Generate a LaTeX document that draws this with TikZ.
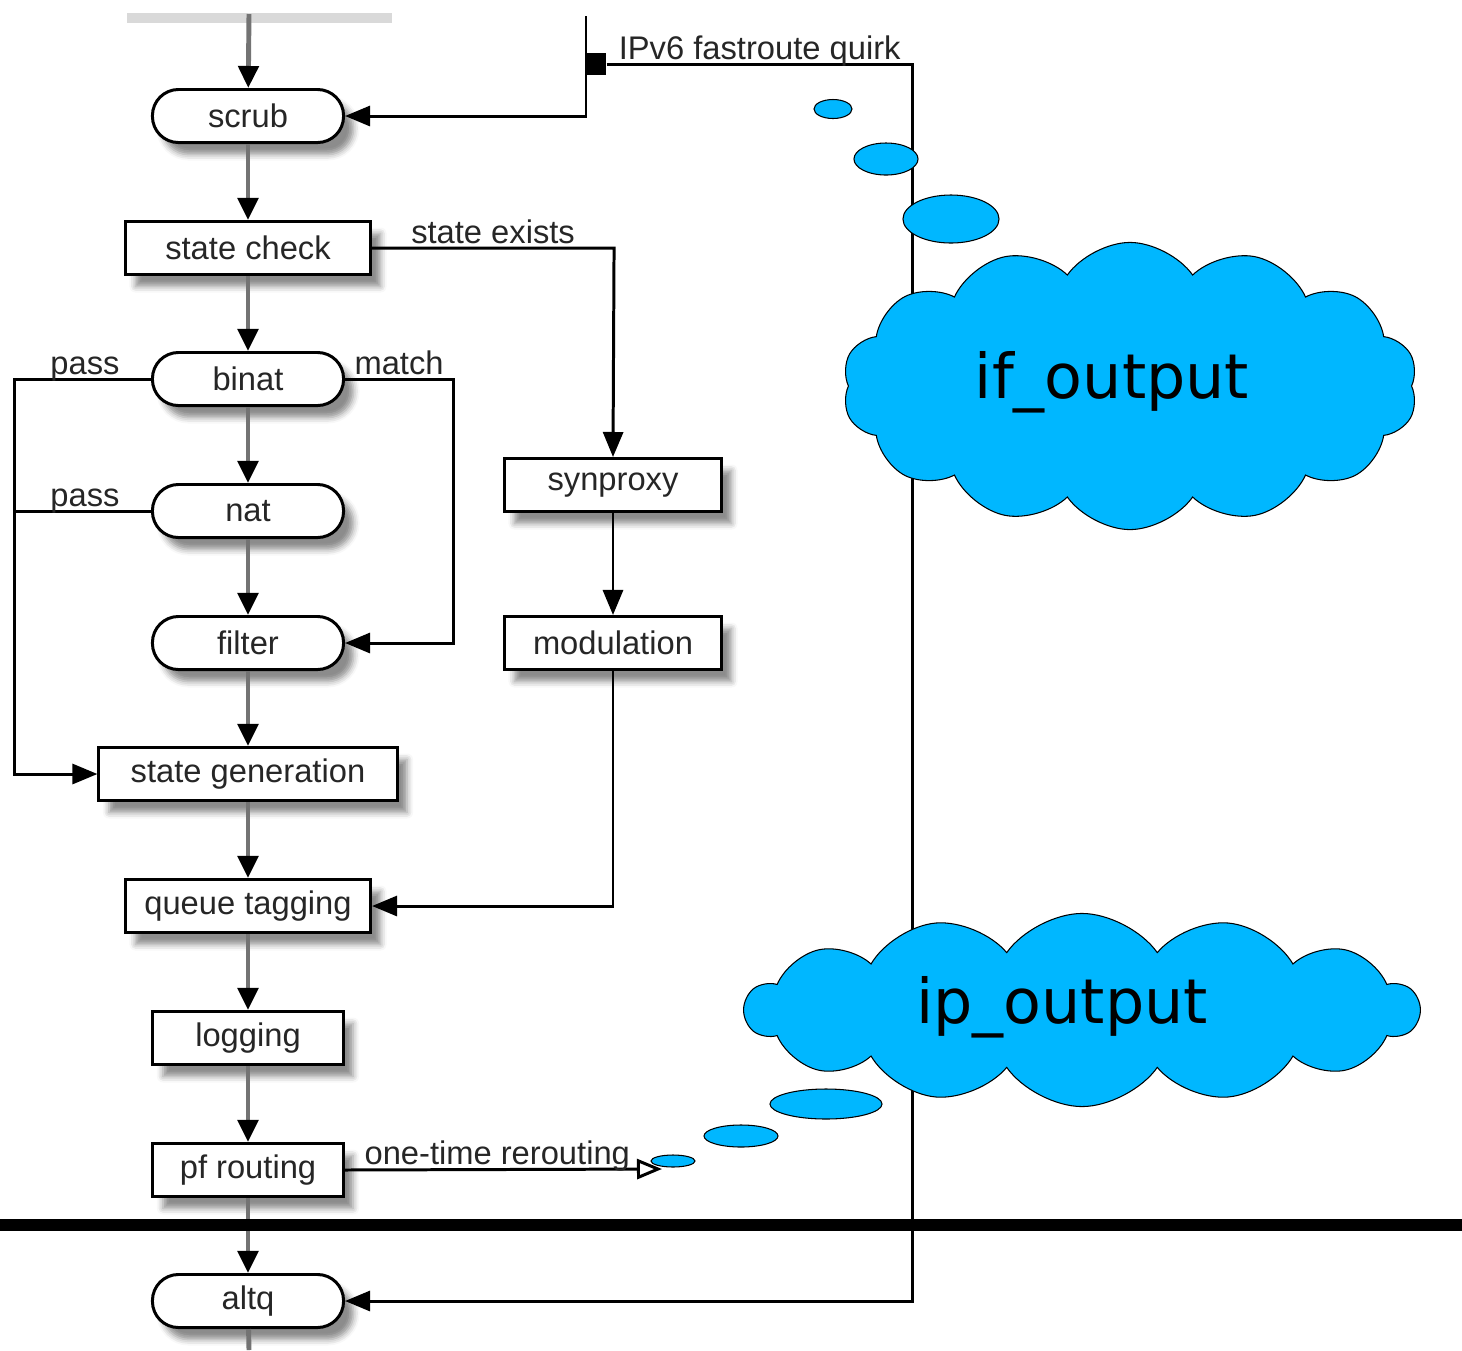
\documentclass[tikz,border=0pt]{standalone}
\usepackage{fontspec}
\setmainfont{Liberation Sans}
\newfontfamily\nuagefont{DejaVu Sans}
\usetikzlibrary{arrows.meta,shapes.symbols,shadows.blur}
\definecolor{nuage}{RGB}{0,183,255}
\definecolor{gristrait}{RGB}{115,115,115}
\tikzset{
	boite/.style={draw, line width=0.85pt, fill=white, text=black!85,
		font=\fontsize{9.3}{11}\selectfont, minimum height=0.53cm, inner sep=0pt,
		blur shadow={shadow xshift=0.1cm, shadow yshift=-0.12cm,
			shadow blur radius=0.06cm, shadow opacity=45}},
	capsule/.style={boite, rounded corners=0.26cm, minimum width=1.91cm},
	flux/.style={draw=gristrait, line width=1.4pt,
		-{Triangle[length=0.22cm,width=0.2cm,color=black]}},
	lien/.style={draw=black, line width=0.85pt,
		-{Triangle[length=0.25cm,width=0.2cm]}},
	etiq/.style={font=\fontsize{9.3}{11}\selectfont, text=black!85,
		anchor=base, yshift=0.05cm},
	bulle/.style={draw=black, line width=0.3pt, fill=nuage},
	nuee/.style={bulle, cloud, cloud puffs=14, cloud puff arc=110, cloud ignores aspect},
	nueetexte/.style={font=\nuagefont\fontsize{17.6}{20}\selectfont, text=black},
}
\begin{document}
\begin{tikzpicture}[x=0.01cm,y=-0.01cm]
\useasboundingbox (0,0) rectangle (1462,1350);
%	Ombre de la boite du dessus :
	\fill[gray!30] (127,13) rectangle (392,23);
	\coordinate (haut) at (249,14);
	\coordinate (hautv6) at (586,16);
	\coordinate (bas) at (249,1350);
	\coordinate (reroute) at (662,1169);
%	Colonne principale :
	\node[capsule] (scrub) at (248,116) {scrub};
	\node[boite, minimum width=2.45cm] (stcheck) at (248,248) {state check};
	\node[capsule] (binat) at (248,379) {binat};
	\node[capsule] (nat) at (248,511) {nat};
	\node[capsule] (filter) at (248,643) {filter};
	\node[boite, minimum width=2.98cm] (stgen) at (248,774) {state generation};
	\node[boite, minimum width=2.45cm] (qtag) at (248,906) {queue tagging};
	\node[boite, minimum width=1.9cm] (logging) at (248,1038) {logging};
	\node[boite, minimum width=1.9cm] (pfrout) at (248,1170) {pf routing};
	\node[capsule] (altq) at (248,1301) {altq};
%	Colonne de droite :
	\node[boite, minimum width=2.17cm] (synproxy) at (613,485) {synproxy};
	\node[boite, minimum width=2.17cm] (modul) at (613,643) {modulation};
	\node[fill=black, inner sep=0pt, minimum width=0.2cm, minimum height=0.22cm] (quirk) at (596,64) {};
%	Flux principal :
	\draw[flux] (haut) -- (scrub);
	\foreach \a/\b in {scrub/stcheck, stcheck/binat, binat/nat, nat/filter,
		filter/stgen, stgen/qtag, qtag/logging, logging/pfrout, pfrout/altq}
		\draw[flux] (\a) -- (\b);
	\draw[flux, -] (altq) -- (bas);
%	Branchements :
	\draw[lien] (hautv6) |- (scrub.east);
	\draw[lien] (stcheck.east) -- node[etiq]{state exists} ++(242,0) -- (synproxy.north);
	\draw[lien] (binat.west) -- node[etiq, xshift=0.02cm]{pass} ++(-136,0) |- (stgen.west);
	\draw[line width=0.85pt] (nat.west) -- node[etiq, xshift=0.02cm]{pass} ++(-136,0);
	\draw[lien] (binat.east) -- node[etiq]{match} ++(108,0) |- (filter.east);
	\draw[lien] (synproxy) -- (modul);
	\draw[lien] (modul.south) |- (qtag.east);
	\draw[line width=0.85pt, -{Triangle[open,length=0.25cm,width=0.2cm]}]
		(pfrout.east) -- node[etiq, xshift=-0.06cm]{one-time rerouting} (reroute);
	\draw[lien] (quirk.east) -- node[etiq]{IPv6 fastroute quirk} ++(306,0) |- (altq.east);
%	Trait de separation :
	\draw[line width=3.2pt] (0,1225) -- (1462,1225);
%	Bulles :
	\filldraw[bulle] (833,109) ellipse [x radius=0.19cm, y radius=0.095cm];
	\filldraw[bulle] (886,159) ellipse [x radius=0.32cm, y radius=0.16cm];
	\filldraw[bulle] (951,219) ellipse [x radius=0.48cm, y radius=0.24cm];
	\filldraw[bulle] (826,1104) ellipse [x radius=0.56cm, y radius=0.15cm];
	\filldraw[bulle] (741,1136) ellipse [x radius=0.37cm, y radius=0.11cm];
	\filldraw[bulle] (673,1161) ellipse [x radius=0.22cm, y radius=0.06cm];
	\node[nuee, minimum width=5.75cm, minimum height=2.87cm,
		label={[nueetexte, xshift=-0.18cm, yshift=0.04cm]center:if\_output}] (ifout) at (1130,386) {};
	\node[nuee, minimum width=6.73cm, minimum height=1.93cm,
		label={[nueetexte, xshift=-0.2cm, yshift=0.03cm]center:ip\_output}] (ipout) at (1082,1010) {};
\end{tikzpicture}
\end{document}
